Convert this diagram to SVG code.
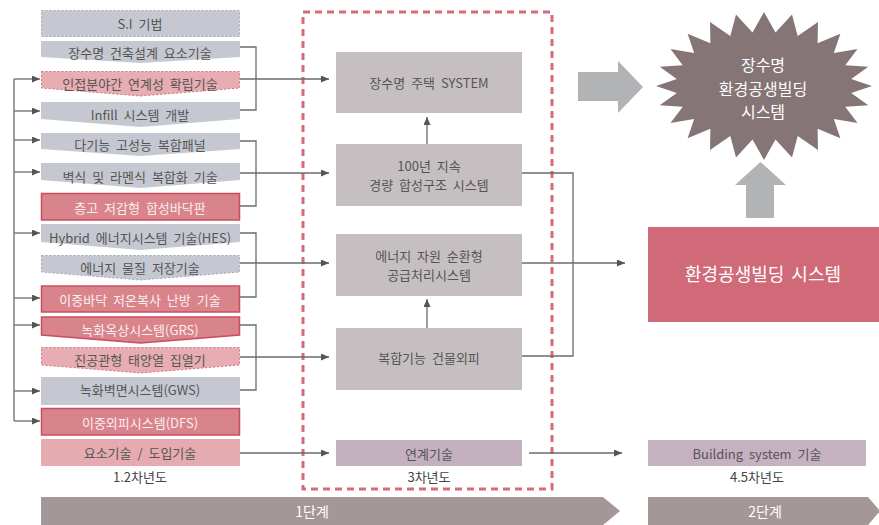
<svg xmlns="http://www.w3.org/2000/svg" width="879" height="525" viewBox="0 0 879 525">
<defs>
<marker id="ah" markerUnits="userSpaceOnUse" markerWidth="9" markerHeight="8" refX="8" refY="3.5" orient="auto">
<path d="M0,0 L8,3.5 L0,7 z" fill="#555"/>
</marker>
<style>
text{font-family:"Noto Sans CJK KR","Noto Sans",sans-serif;text-anchor:middle;dominant-baseline:central;}
.t{font-size:13px;fill:#555;word-spacing:3px;}
.tw{font-size:13px;fill:#fbeef0;word-spacing:3px;}
.gray{fill:#c5c8d0;}
.grayd{fill:#c5c8d0;stroke:#a4a7b0;stroke-width:1;stroke-dasharray:2 2;}
.pinkd{fill:#e7adb3;stroke:#d0707e;stroke-width:1;stroke-dasharray:2 2;}
.red{fill:#d9838b;stroke:#cc4d61;stroke-width:1.5;}
.mid{fill:#c5bfc1;}
.ln{fill:none;stroke:#6b6b6b;stroke-width:1.3;}
.ar{fill:none;stroke:#6b6b6b;stroke-width:1.3;marker-end:url(#ah);}
.bar{fill:#a39797;}
.bt{font-size:14px;fill:#fff;}
.st{font-size:16px;fill:#fff;}
</style>
</defs>

<!-- dashed frame -->
<rect x="303" y="12" width="249" height="477" fill="none" stroke="#d56b7b" stroke-width="3" stroke-dasharray="7 5"/>

<!-- left column -->
<g id="n-si"><rect class="grayd" x="41.5" y="10.5" width="198" height="26"/><text class="t" x="140" y="23">S.I 기법</text></g>
<g id="n-jangsu"><path class="gray" d="M41,41 H240 V57 L140.5,63 L41,57 Z"/><text class="t" x="140" y="52">장수명 건축설계 요소기술</text></g>
<g id="n-injeop"><path class="pinkd" d="M41.5,71.5 H239.5 V88 L140.5,96 L41.5,88 Z"/><text class="t" x="140" y="83">인접분야간 연계성 확립기술</text></g>
<g id="n-infill"><path class="gray" d="M41,102 H240 V119 L140.5,127 L41,119 Z"/><text class="t" x="140" y="114">Infill 시스템 개발</text></g>
<g id="n-dagi"><path class="gray" d="M41,133 H240 V149 L140.5,156 L41,149 Z"/><text class="t" x="140" y="144">다기능 고성능 복합패널</text></g>
<g id="n-byeok"><path class="gray" d="M41,163 H240 V180 L140.5,188 L41,180 Z"/><text class="t" x="140" y="176">벽식 및 라멘식 복합화 기술</text></g>
<g id="n-cheung"><rect class="red" x="41.5" y="193.5" width="198" height="26.5"/><text class="tw" x="140" y="207">층고 저감형 합성바닥판</text></g>
<g id="n-hybrid"><path class="gray" d="M41,224 H240 V242 L140.5,250 L41,242 Z"/><text class="t" x="140" y="237">Hybrid 에너지시스템 기술(HES)</text></g>
<g id="n-energy"><path class="grayd" d="M41.5,255.5 H239.5 V272 L140.5,280 L41.5,272 Z"/><text class="t" x="140" y="267">에너지 물질 저장기술</text></g>
<g id="n-ijung"><rect class="red" x="41.5" y="286" width="198" height="26"/><text class="tw" x="140" y="299">이중바닥 저온복사 난방 기술</text></g>
<g id="n-grs"><path class="red" d="M41.5,317 H239.5 V335 L140.5,343 L41.5,335 Z"/><text class="tw" x="140" y="329">녹화옥상시스템(GRS)</text></g>
<g id="n-jingong"><path class="pinkd" d="M41.5,347.5 H239.5 V365 L140.5,373 L41.5,365 Z"/><text class="t" x="140" y="359">진공관형 태양열 집열기</text></g>
<g id="n-gws"><rect class="gray" x="41" y="377" width="199" height="28"/><text class="t" x="140" y="389">녹화벽면시스템(GWS)</text></g>
<g id="n-dfs"><rect class="red" x="41.5" y="408.5" width="198" height="26.5"/><text class="tw" x="140" y="422">이중외피시스템(DFS)</text></g>
<g id="n-yoso"><rect x="41" y="439" width="199" height="27" fill="#e5abb0"/><text class="t" x="140" y="452">요소기술 / 도입기술</text></g>
<text class="t" x="140" y="476" style="fill:#444">1.2차년도</text>

<!-- middle column -->
<g id="n-system"><rect class="mid" x="336" y="52" width="186" height="61"/><text class="t" x="429" y="82">장수명 주택 SYSTEM</text></g>
<g id="n-100"><rect class="mid" x="336" y="144" width="186" height="62"/><text class="t" x="429" y="165">100년 지속</text><text class="t" x="429" y="184">경량 합성구조 시스템</text></g>
<g id="n-energyres"><rect class="mid" x="336" y="234" width="186" height="62"/><text class="t" x="429" y="255">에너지 자원 순환형</text><text class="t" x="429" y="274">공급처리시스템</text></g>
<g id="n-envelope"><rect class="mid" x="336" y="328" width="186" height="62"/><text class="t" x="429" y="357">복합기능 건물외피</text></g>
<g id="n-yeongye"><rect x="336" y="440" width="186" height="26" fill="#c4b1c0"/><text class="t" x="429" y="453">연계기술</text></g>
<text class="t" x="429" y="476" style="fill:#444">3차년도</text>

<!-- right column -->
<g id="n-star"><path fill="#857577" d="M872,86 L851.2,93 L868.3,105.2 L845.3,106.7 L857.5,123 L833.8,118.9 L840.4,138.3 L817.6,128.8 L818,150.1 L797.7,135.9 L792,157.5 L775.5,139.5 L764,160 L752.5,139.5 L736,157.5 L730.3,135.9 L710,150.1 L710.4,128.8 L687.6,138.3 L694.2,118.9 L670.5,123 L682.7,106.7 L659.7,105.2 L676.8,93 L656,86 L676.8,79 L659.7,66.8 L682.7,65.3 L670.5,49 L694.2,53.1 L687.6,33.7 L710.4,43.2 L710,21.9 L730.3,36.1 L736,14.5 L752.5,32.5 L764,12 L775.5,32.5 L792,14.5 L797.7,36.1 L818,21.9 L817.6,43.2 L840.4,33.7 L833.8,53.1 L857.5,49 L845.3,65.3 L868.3,66.8 L851.2,79 Z"/>
<text class="st" x="763" y="64">장수명</text>
<text class="st" x="763" y="87.5">환경공생빌딩</text>
<text class="st" x="763" y="111">시스템</text></g>
<g id="n-env"><rect x="648" y="227" width="231" height="95" fill="#d06a78"/><text x="763" y="273" style="font-size:18px;fill:#fff;word-spacing:3px">환경공생빌딩 시스템</text></g>
<g id="n-building"><rect x="648" y="440" width="218" height="26" fill="#c5b2c0"/><text class="t" x="757" y="453">Building system 기술</text></g>
<text class="t" x="757" y="476" style="fill:#444">4.5차년도</text>

<!-- block arrows -->
<polygon points="578,72 618,72 618,61 643,87 618,113 618,101 578,101" fill="#b2b3b5"/>
<polygon points="746,218 746,185 735,185 760.5,162 786,185 774,185 774,218" fill="#b2b3b5"/>

<!-- stage bars -->
<g id="stage1"><polygon class="bar" points="41,497 603,497 620,511 603,525 41,525"/><text class="bt" x="312" y="511">1단계</text></g>
<g id="stage2"><polygon class="bar" points="648,497 868,497 880,511 868,525 648,525"/><text class="bt" x="765" y="511">2단계</text></g>

<!-- connectors -->
<g id="connectors">
<path class="ln" d="M14,79 V421"/>
<path class="ar" d="M14,79 H40"/>
<path class="ar" d="M14,111 H40"/>
<path class="ar" d="M14,140 H40"/>
<path class="ar" d="M14,172 H40"/>
<path class="ar" d="M14,233 H40"/>
<path class="ar" d="M14,298 H40"/>
<path class="ar" d="M14,325 H40"/>
<path class="ar" d="M14,391 H40"/>
<path class="ar" d="M14,421 H40"/>
<path class="ln" d="M240,47 H256 V110 H240"/>
<path class="ar" d="M240,79 H329"/>
<path class="ln" d="M240,141 H256 V206 H240"/>
<path class="ar" d="M240,173 H329"/>
<path class="ln" d="M240,233 H256 V297 H240"/>
<path class="ar" d="M240,263 H329"/>
<path class="ln" d="M240,325 H256 V390 H240"/>
<path class="ar" d="M240,357 H329"/>
<path class="ar" d="M240,453 H329"/>
<path class="ar" d="M427,144 V117"/>
<path class="ar" d="M427,328 V299"/>
<path class="ln" d="M522,173 H573 V356 H522"/>
<path class="ar" d="M522,263 H625"/>
<path class="ar" d="M529,453 H622"/>
</g>
</svg>
